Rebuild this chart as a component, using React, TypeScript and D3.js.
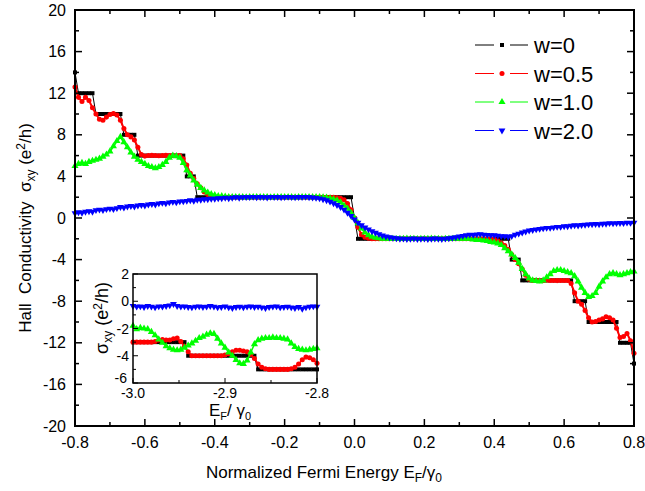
import React from 'react';
import * as d3 from 'd3';

// main panel: E_F / gamma_0 from -0.8 to 0.8, one value every 0.01 (10 per row, centre value alone)
const energyStart = -0.8;
const energyStep = 0.01;

const hallW0 = [
  14, 12, 12, 12, 12, 12, 10, 10, 10, 10,
  10, 10, 10, 10, 8, 8, 8, 8, 6, 6,
  6, 6, 6, 6, 6, 6, 6, 6, 6, 6,
  6, 6, 4, 4, 4, 2, 2, 2, 2, 2,
  2, 2, 2, 2, 2, 2, 2, 2, 2, 2,
  2, 2, 2, 2, 2, 2, 2, 2, 2, 2,
  2, 2, 2, 2, 2, 2, 2, 2, 2, 2,
  2, 2, 2, 2, 2, 2, 2, 2, 2, 2,
  0,
  -2, -2, -2, -2, -2, -2, -2, -2, -2, -2,
  -2, -2, -2, -2, -2, -2, -2, -2, -2, -2,
  -2, -2, -2, -2, -2, -2, -2, -2, -2, -2,
  -2, -2, -2, -2, -2, -2, -2, -2, -2, -2,
  -2, -2, -2, -2, -4, -4, -4, -6, -6, -6,
  -6, -6, -6, -6, -6, -6, -6, -6, -6, -6,
  -6, -6, -8, -8, -8, -8, -10, -10, -10, -10,
  -10, -10, -10, -10, -10, -12, -12, -12, -12, -14,
];

const hallW05 = [
  12.6, 11.6, 11.2, 11.6, 11.3, 10.6, 10.0, 9.5, 9.4, 9.7,
  9.95, 10.05, 9.9, 9.4, 8.6, 8.0, 7.8, 7.5, 6.8, 6.1,
  5.95, 6.0, 6.02, 6.0, 5.98, 6.0, 6.02, 6.0, 6.0, 5.98,
  6.0, 5.7, 5.1, 4.3, 3.8, 3.3, 2.9, 2.5, 2.25, 2.1,
  2.05, 2.0, 2.0, 2.0, 2.0, 2.0, 2.0, 2.0, 2.0, 2.0,
  2.0, 2.0, 2.0, 2.0, 2.0, 2.0, 2.0, 2.0, 2.0, 2.0,
  2.0, 2.0, 2.0, 2.0, 2.0, 2.0, 2.0, 2.0, 2.0, 2.0,
  2.0, 2.0, 2.0, 2.0, 2.0, 1.95, 1.9, 1.75, 1.4, 0.8,
  0.0,
  -0.9, -1.6, -1.85, -1.95, -2.0, -2.0, -2.0, -2.0, -2.0, -2.0,
  -2.0, -2.0, -2.0, -2.0, -2.0, -2.0, -2.0, -2.0, -2.0, -2.0,
  -2.0, -2.0, -2.0, -2.0, -2.0, -2.0, -2.0, -2.0, -2.0, -2.0,
  -2.0, -2.0, -2.0, -2.0, -2.0, -2.0, -2.0, -2.0, -2.0, -2.05,
  -2.2, -2.4, -2.65, -3.0, -3.5, -4.0, -4.4, -4.9, -5.5, -5.9,
  -6.0, -6.0, -6.02, -6.0, -5.98, -6.0, -6.0, -6.02, -6.0, -6.0,
  -6.0, -6.3, -7.2, -8.0, -8.3, -8.9, -9.6, -10.0, -9.95, -9.8,
  -9.7, -9.5, -9.6, -9.8, -10.6, -11.5, -11.4, -11.1, -11.8, -13.0,
];

const hallW10 = [
  5.0, 5.2, 5.3, 5.2, 5.4, 5.5, 5.6, 5.7, 5.9, 6.1,
  6.4, 6.9, 7.4, 7.8, 7.3, 6.8, 6.3, 5.9, 5.6, 5.4,
  5.2, 5.0, 4.9, 4.8, 4.9, 5.1, 5.4, 5.8, 6.0, 5.95,
  5.8, 5.3, 4.6, 4.1, 3.6, 3.2, 2.9, 2.65, 2.45, 2.3,
  2.2, 2.1, 2.1, 2.05, 2.0, 2.0, 2.02, 2.0, 2.0, 1.98,
  2.0, 2.0, 2.02, 2.0, 2.0, 2.0, 1.98, 2.0, 2.0, 2.02,
  2.0, 2.0, 2.0, 1.98, 2.0, 2.0, 2.02, 2.0, 2.0, 2.0,
  2.0, 1.98, 1.95, 1.9, 1.8, 1.7, 1.5, 1.2, 0.9, 0.5,
  0.0,
  -0.5, -1.0, -1.4, -1.65, -1.8, -1.9, -1.95, -2.0, -2.0, -2.0,
  -2.0, -2.02, -2.0, -2.0, -1.98, -2.0, -2.0, -2.02, -2.0, -2.0,
  -2.0, -1.98, -2.0, -2.0, -2.02, -2.0, -2.0, -2.0, -1.98, -2.0,
  -2.0, -2.0, -2.0, -2.05, -2.1, -2.1, -2.15, -2.2, -2.3, -2.35,
  -2.45, -2.6, -2.9, -3.2, -3.5, -3.85, -4.3, -4.9, -5.4, -5.8,
  -6.0, -6.05, -6.1, -6.0, -5.7, -5.4, -5.1, -5.0, -5.0, -5.1,
  -5.2, -5.3, -5.6, -6.1, -6.7, -7.2, -7.6, -7.5, -7.2, -6.6,
  -6.1, -5.7, -5.4, -5.3, -5.4, -5.5, -5.4, -5.3, -5.2, -5.15,
];

const hallW20 = [
  0.45, 0.55, 0.5, 0.6, 0.65, 0.6, 0.75, 0.8, 0.75, 0.85,
  0.9, 0.85, 0.95, 1.05, 1.0, 1.1, 1.15, 1.1, 1.2, 1.25,
  1.2, 1.3, 1.35, 1.3, 1.4, 1.45, 1.4, 1.5, 1.55, 1.5,
  1.6, 1.6, 1.65, 1.7, 1.65, 1.75, 1.75, 1.8, 1.8, 1.85,
  1.85, 1.9, 1.9, 1.95, 1.9, 1.95, 2.0, 1.95, 2.0, 2.0,
  2.0, 2.03, 1.98, 2.02, 2.0, 1.97, 2.03, 2.0, 2.02, 1.98,
  2.0, 2.03, 2.0, 1.98, 2.02, 2.0, 2.03, 1.99, 1.97, 1.93,
  1.88, 1.8, 1.7, 1.57, 1.42, 1.25, 1.05, 0.8, 0.5, 0.2,
  -0.15,
  -0.45, -0.7, -0.92, -1.1, -1.28, -1.42, -1.55, -1.68, -1.78, -1.85,
  -1.9, -1.95, -2.0, -1.98, -2.02, -2.0, -1.97, -2.02, -2.0, -1.98,
  -2.03, -2.0, -1.97, -2.0, -2.02, -1.98, -1.95, -1.9, -1.85, -1.78,
  -1.72, -1.65, -1.6, -1.62, -1.58, -1.55, -1.6, -1.62, -1.65, -1.66,
  -1.7, -1.75, -1.75, -1.8, -1.75, -1.6, -1.5, -1.4, -1.3, -1.2,
  -1.15, -1.1, -1.05, -1.0, -0.95, -0.95, -0.9, -0.85, -0.85, -0.8,
  -0.8, -0.75, -0.7, -0.72, -0.68, -0.65, -0.62, -0.6, -0.58, -0.6,
  -0.55, -0.55, -0.5, -0.52, -0.5, -0.48, -0.5, -0.45, -0.47, -0.45,
];

// inset: E_F / gamma_0 from -3.0 to -2.8, one value every 0.004
const insetStart = -3.0;
const insetStep = 0.004;

const insetW0 = [
  -3, -3, -3, -3, -3, -3, -3, -3, -3, -3,
  -3, -3, -3, -3, -3, -4, -4, -4, -4, -4,
  -4, -4, -4, -4, -4, -4, -4, -4, -4, -4,
  -4, -4, -4, -4, -5, -5, -5, -5, -5, -5,
  -5, -5, -5, -5, -5, -5, -5, -5, -5, -5,
  -5,
];

const insetW05 = [
  -3.0, -3.0, -3.0, -3.0, -3.0, -3.0, -2.95, -2.85, -2.8, -2.85,
  -2.85, -2.75, -2.7, -2.95, -3.3, -3.7, -4.0, -4.0, -4.0, -4.0,
  -4.0, -4.0, -4.0, -4.0, -4.0, -3.95, -3.85, -3.7, -3.6, -3.6,
  -3.65, -3.7, -3.9, -4.2, -4.6, -4.85, -4.95, -5.0, -5.0, -5.0,
  -5.0, -5.0, -5.0, -4.95, -4.85, -4.6, -4.3, -4.1, -4.15, -4.3,
  -4.55,
];

const insetW10 = [
  -1.8, -2.05, -1.95, -2.0, -2.05, -2.25, -2.5, -2.8, -3.05, -3.3,
  -3.45, -3.55, -3.6, -3.55, -3.4, -3.25, -3.1, -2.9, -2.7, -2.6,
  -2.45, -2.35, -2.4, -2.75, -3.1, -3.4, -3.75, -4.0, -4.3, -4.55,
  -4.6, -4.35, -3.75, -3.15, -2.85, -2.75, -2.7, -2.7, -2.65, -2.7,
  -2.7, -2.75, -2.8, -3.1, -3.35, -3.5, -3.55, -3.6, -3.55, -3.5,
  -3.45,
];

const insetW20 = [
  -0.35, -0.4, -0.38, -0.42, -0.35, -0.4, -0.45, -0.38, -0.4, -0.35,
  -0.3, -0.2, -0.35, -0.4, -0.38, -0.42, -0.45, -0.4, -0.38, -0.42,
  -0.4, -0.35, -0.4, -0.45, -0.42, -0.38, -0.45, -0.5, -0.42, -0.4,
  -0.45, -0.4, -0.38, -0.42, -0.4, -0.45, -0.5, -0.42, -0.4, -0.38,
  -0.45, -0.42, -0.4, -0.45, -0.5, -0.42, -0.55, -0.45, -0.4, -0.38,
  -0.4,
];

const legendLabels = ['w=0', 'w=0.5', 'w=1.0', 'w=2.0'];
const xTickLabels = ['-0.8', '-0.6', '-0.4', '-0.2', '0.0', '0.2', '0.4', '0.6', '0.8'];
const yTickLabels = ['-20', '-16', '-12', '-8', '-4', '0', '4', '8', '12', '16', '20'];
const insetXTickLabels = ['-3.0', '-2.9', '-2.8'];
const insetYTickLabels = ['-6', '-4', '-2', '0', '2'];

const colors = ['#000000', '#ff0000', '#00ff00', '#0000ff'];
const FONT = '"Liberation Sans", Arial, sans-serif';

const symbolFor = [
  d3.symbol().type(d3.symbolSquare).size(16),
  d3.symbol().type(d3.symbolCircle).size(20),
  d3.symbol().type(d3.symbolTriangle).size(22),
  d3.symbol().type(d3.symbolTriangle).size(20),
];

type Pt = [number, number];

const toPoints = (vals: number[], start: number, step: number): Pt[] =>
  vals.map((v, i) => [start + i * step, v]);

function Series({ pts, x, y, idx, lw }: { pts: Pt[]; x: any; y: any; idx: number; lw: number }) {
  const line = d3.line<Pt>().x(d => x(d[0])).y(d => y(d[1]));
  const sym = symbolFor[idx]() as string;
  const flip = idx === 3 ? ' rotate(180)' : '';
  return (
    <g>
      <path d={line(pts) as string} fill="none" stroke={colors[idx]} strokeWidth={lw} />
      {pts.map((p, i) => (
        <path key={i} d={sym} fill={colors[idx]} transform={`translate(${x(p[0])},${y(p[1])})${flip}`} />
      ))}
    </g>
  );
}

export default function App() {
  const x = d3.scaleLinear().domain([-0.8, 0.8]).range([75, 634]);
  const y = d3.scaleLinear().domain([-20, 20]).range([426, 10]);
  const xi = d3.scaleLinear().domain([-3.0, -2.8]).range([133, 317]);
  const yi = d3.scaleLinear().domain([-6, 2]).range([383, 274]);

  const main = [hallW0, hallW05, hallW10, hallW20].map(v => toPoints(v, energyStart, energyStep));
  const inset = [insetW0, insetW05, insetW10, insetW20].map(v => toPoints(v, insetStart, insetStep));

  const xMajor = xTickLabels.map(Number);
  const xMinor = d3.range(-7, 8, 2).map(k => k / 10);
  const yMajor = yTickLabels.map(Number);
  const yMinor = d3.range(-18, 19, 4);
  const ixMajor = insetXTickLabels.map(Number);
  const ixMinor = [-2.95, -2.85];
  const iyMajor = insetYTickLabels.map(Number);
  const iyMinor = [-5, -3, -1, 1];

  const [x0, x1] = x.range();
  const [y0, y1] = y.range();
  const [ix0, ix1] = xi.range();
  const [iy0, iy1] = yi.range();

  return (
    <svg width={645} height={491} style={{ position: 'absolute', left: 0, top: 0, background: '#fff' }} fontFamily={FONT}>
      {/* data of main panel */}
      <g>
        {main.map((pts, i) => (
          <Series key={i} pts={pts} x={x} y={y} idx={i} lw={i === 0 ? 1 : 2} />
        ))}
      </g>

      {/* main frame and ticks */}
      <rect x={x0} y={y1} width={x1 - x0} height={y0 - y1} fill="none" stroke="#000" strokeWidth={2} />
      {xMajor.map(v => (
        <g key={'xm' + v}>
          <line x1={x(v)} x2={x(v)} y1={y0} y2={y0 - 7} stroke="#000" strokeWidth={1.5} />
          <line x1={x(v)} x2={x(v)} y1={y1} y2={y1 + 7} stroke="#000" strokeWidth={1.5} />
        </g>
      ))}
      {xMinor.map(v => (
        <g key={'xn' + v}>
          <line x1={x(v)} x2={x(v)} y1={y0} y2={y0 - 4} stroke="#000" strokeWidth={1.5} />
          <line x1={x(v)} x2={x(v)} y1={y1} y2={y1 + 4} stroke="#000" strokeWidth={1.5} />
        </g>
      ))}
      {yMajor.map(v => (
        <g key={'ym' + v}>
          <line x1={x0} x2={x0 + 7} y1={y(v)} y2={y(v)} stroke="#000" strokeWidth={1.5} />
          <line x1={x1} x2={x1 - 7} y1={y(v)} y2={y(v)} stroke="#000" strokeWidth={1.5} />
        </g>
      ))}
      {yMinor.map(v => (
        <g key={'yn' + v}>
          <line x1={x0} x2={x0 + 4} y1={y(v)} y2={y(v)} stroke="#000" strokeWidth={1.5} />
          <line x1={x1} x2={x1 - 4} y1={y(v)} y2={y(v)} stroke="#000" strokeWidth={1.5} />
        </g>
      ))}
      {xTickLabels.map((t, i) => (
        <text key={'xl' + t} x={x(xMajor[i])} y={y0 + 22} textAnchor="middle" fontSize={16}>{t}</text>
      ))}
      {yTickLabels.map((t, i) => (
        <text key={'yl' + t} x={x0 - 9} y={y(yMajor[i]) + 5.5} textAnchor="end" fontSize={16}>{t}</text>
      ))}

      {/* axis titles */}
      <text x={324} y={478} textAnchor="middle" fontSize={17}>
        Normalized Fermi Energy E<tspan fontSize={12} dy={4}>F</tspan><tspan dy={-4}>/γ</tspan><tspan fontSize={12} dy={4}>0</tspan>
      </text>
      <text transform="translate(31,228) rotate(-90)" textAnchor="middle" fontSize={17} style={{ whiteSpace: 'pre' }}>
        {'Hall  Conductivity  σ'}<tspan fontSize={12} dy={4}>xy</tspan><tspan dy={-4}>{' (e'}</tspan><tspan fontSize={12} dy={-6}>2</tspan><tspan dy={6}>/h)</tspan>
      </text>

      {/* legend */}
      {legendLabels.map((t, i) => {
        const ly = 45 + i * 28.5;
        const sym = symbolFor[i]() as string;
        return (
          <g key={t}>
            <line x1={475} x2={494} y1={ly} y2={ly} stroke={colors[i]} strokeWidth={1} />
            <line x1={510} x2={528} y1={ly} y2={ly} stroke={colors[i]} strokeWidth={1} />
            <path d={sym} fill={colors[i]} transform={`translate(502,${ly})${i === 3 ? ' rotate(180)' : ''}`} />
            <text x={534} y={ly + 8} fontSize={22}>{t}</text>
          </g>
        );
      })}

      {/* inset */}
      <rect x={ix0} y={iy1} width={ix1 - ix0} height={iy0 - iy1} fill="#fff" />
      <g>
        {inset.map((pts, i) => (
          <Series key={i} pts={pts} x={xi} y={yi} idx={i} lw={1.5} />
        ))}
      </g>
      <rect x={ix0} y={iy1} width={ix1 - ix0} height={iy0 - iy1} fill="none" stroke="#000" strokeWidth={1.5} />
      {ixMajor.map(v => (
        <line key={'ixm' + v} x1={xi(v)} x2={xi(v)} y1={iy0} y2={iy0 - 5} stroke="#000" strokeWidth={1} />
      ))}
      {ixMinor.map(v => (
        <line key={'ixn' + v} x1={xi(v)} x2={xi(v)} y1={iy0} y2={iy0 - 3} stroke="#000" strokeWidth={1} />
      ))}
      {iyMajor.map(v => (
        <line key={'iym' + v} x1={ix0} x2={ix0 + 5} y1={yi(v)} y2={yi(v)} stroke="#000" strokeWidth={1} />
      ))}
      {iyMinor.map(v => (
        <line key={'iyn' + v} x1={ix0} x2={ix0 + 3} y1={yi(v)} y2={yi(v)} stroke="#000" strokeWidth={1} />
      ))}
      {insetXTickLabels.map((t, i) => (
        <text key={'ixl' + t} x={xi(ixMajor[i])} y={iy0 + 15} textAnchor="middle" fontSize={14}>{t}</text>
      ))}
      {insetYTickLabels.map((t, i) => (
        <text key={'iyl' + t} x={ix0 - (i === 0 ? 6 : 4)} y={yi(iyMajor[i]) + (i === 0 ? 0 : 5)} textAnchor="end" fontSize={14}>{t}</text>
      ))}
      <text x={230} y={416} textAnchor="middle" fontSize={17}>
        E<tspan fontSize={11} dy={4}>F</tspan><tspan dy={-4}>/ γ</tspan><tspan fontSize={11} dy={4}>0</tspan>
      </text>
      <text transform="translate(108,318) rotate(-90)" textAnchor="middle" fontSize={18}>
        σ<tspan fontSize={12} dy={4}>xy</tspan><tspan dy={-4}> (e</tspan><tspan fontSize={12} dy={-6}>2</tspan><tspan dy={6}>/h)</tspan>
      </text>
    </svg>
  );
}
